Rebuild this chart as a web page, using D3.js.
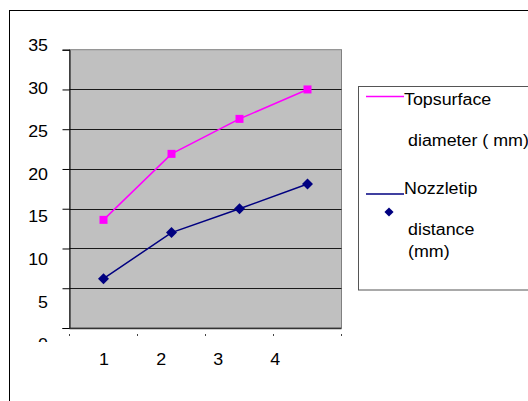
<!DOCTYPE html>
<html><head><meta charset="utf-8">
<script src="https://cdn.jsdelivr.net/npm/d3@7"></script>
<style>
html,body{margin:0;padding:0;background:#fff;}
svg{display:block;}
text{font-family:"Liberation Sans",Arial,sans-serif;fill:#000;}
</style></head>
<body>
<svg id="c" width="528" height="401"></svg>
<script>
const categories = [1, 2, 3, 4];
const topSurface = [13.6, 21.9, 26.3, 30.0];
const nozzleTip = [6.2, 12.0, 15.0, 18.1];
const yTicks = [0, 5, 10, 15, 20, 25, 30, 35];
const xLabels = ["1", "2", "3", "4"];
const legendTop = ["Topsurface", "diameter ( mm)"];
const legendNoz = ["Nozzletip", "distance", "(mm)"];

const svg = d3.select("#c");
const FS = 15.8, SX = 1.13;

// outer border
svg.append("rect").attr("x", 9.5).attr("y", 10.5).attr("width", 540).attr("height", 420)
  .attr("fill", "#fff").attr("stroke", "#000").attr("stroke-width", 1);

const x = d3.scaleBand().domain(categories).range([69.5, 341.5]);
const y = d3.scaleLinear().domain([0, 35]).range([328, 49.7]);
// label placement scales (labels in the reference are spread differently from the ticks)
const yLab = d3.scaleLinear().domain([0, 35]).range([344.7, 45.8]);
const xLab = d3.scalePoint().domain(xLabels).range([104, 275.3]);

// plot area
svg.append("rect").attr("x", x.range()[0]).attr("y", y(35))
  .attr("width", x.range()[1] - x.range()[0]).attr("height", y(0) - y(35))
  .attr("fill", "#c0c0c0").attr("stroke", "#808080").attr("stroke-width", 1);

// gridlines
svg.append("g").selectAll("line").data(yTicks.filter(d => d > 0 && d < 35)).join("line")
  .attr("x1", x.range()[0]).attr("x2", x.range()[1])
  .attr("y1", d => Math.round(y(d)) + 0.5).attr("y2", d => Math.round(y(d)) + 0.5)
  .attr("stroke", "#1a1a1a").attr("stroke-width", 1);

// y axis
const yAxis = d3.axisLeft(y).tickValues(yTicks).tickSize(7).tickFormat("");
const ya = svg.append("g").attr("transform", `translate(${x.range()[0]},0)`).call(yAxis);
ya.select(".domain").attr("stroke", "#000");
ya.selectAll(".tick line").attr("stroke", "#000");

// bottom axis line
svg.append("line").attr("x1", x.range()[0]).attr("x2", x.range()[1])
  .attr("y1", y(0) + 0.5).attr("y2", y(0) + 0.5).attr("stroke", "#333").attr("stroke-width", 1.5);

// y labels (clipped like the reference)
svg.append("clipPath").attr("id", "yclip").append("rect")
  .attr("x", 0).attr("y", 0).attr("width", 60).attr("height", 342);
svg.append("g").attr("clip-path", "url(#yclip)").selectAll("text").data(yTicks).join("text")
  .attr("transform", d => `translate(48,${yLab(d) + 5.6}) scale(${SX},1)`)
  .attr("text-anchor", "end").attr("font-size", FS).text(d => d);

// x tick dots
const bounds = x.domain().map(d => x(d)).concat([x.range()[1]]);
svg.append("g").selectAll("line").data(bounds).join("line")
  .attr("x1", d => d).attr("x2", d => d).attr("y1", 334).attr("y2", 336)
  .attr("stroke", "#444").attr("stroke-width", 1);

// x labels
svg.append("g").selectAll("text").data(xLabels).join("text")
  .attr("transform", d => `translate(${xLab(d)},365) scale(${SX},1)`)
  .attr("text-anchor", "middle").attr("font-size", FS).text(d => d);

// lines
const line = d3.line().x((d, i) => x(categories[i]) + x.bandwidth() / 2).y(d => y(d));
svg.append("path").datum(topSurface).attr("d", line).attr("fill", "none")
  .attr("stroke", "#ff00ff").attr("stroke-width", 1.5);
svg.append("path").datum(nozzleTip).attr("d", line).attr("fill", "none")
  .attr("stroke", "#000080").attr("stroke-width", 1.5);

// markers
svg.append("g").selectAll("rect").data(topSurface).join("rect")
  .attr("x", (d, i) => x(categories[i]) + x.bandwidth() / 2 - 4)
  .attr("y", d => y(d) - 4).attr("width", 8).attr("height", 8).attr("fill", "#ff00ff");
svg.append("g").selectAll("path").data(nozzleTip).join("path")
  .attr("transform", (d, i) => `translate(${x(categories[i]) + x.bandwidth() / 2},${y(d)}) rotate(45)`)
  .attr("d", d3.symbol().type(d3.symbolSquare).size(60)).attr("fill", "#000080");

// legend
svg.append("rect").attr("x", 358.5).attr("y", 86.5).attr("width", 200).attr("height", 203.5)
  .attr("fill", "#fff").attr("stroke", "#555").attr("stroke-width", 1);
svg.append("line").attr("x1", 366).attr("x2", 404).attr("y1", 96.5).attr("y2", 96.5)
  .attr("stroke", "#ff00ff").attr("stroke-width", 1.5);
svg.append("line").attr("x1", 366).attr("x2", 404).attr("y1", 194).attr("y2", 194)
  .attr("stroke", "#000080").attr("stroke-width", 1.5);
svg.append("path").attr("transform", "translate(389,212) rotate(45)")
  .attr("d", d3.symbol().type(d3.symbolSquare).size(42)).attr("fill", "#000080");

const legTexts = [
  {t: legendTop[0], x: 404, y: 104.5},
  {t: legendTop[1], x: 408, y: 146},
  {t: legendNoz[0], x: 404, y: 194},
  {t: legendNoz[1], x: 408, y: 235},
  {t: legendNoz[2], x: 408, y: 256.7}
];
svg.append("g").selectAll("text").data(legTexts).join("text")
  .attr("transform", d => `translate(${d.x},${d.y}) scale(${SX},1)`)
  .attr("font-size", FS).text(d => d.t);
</script>
</body></html>
